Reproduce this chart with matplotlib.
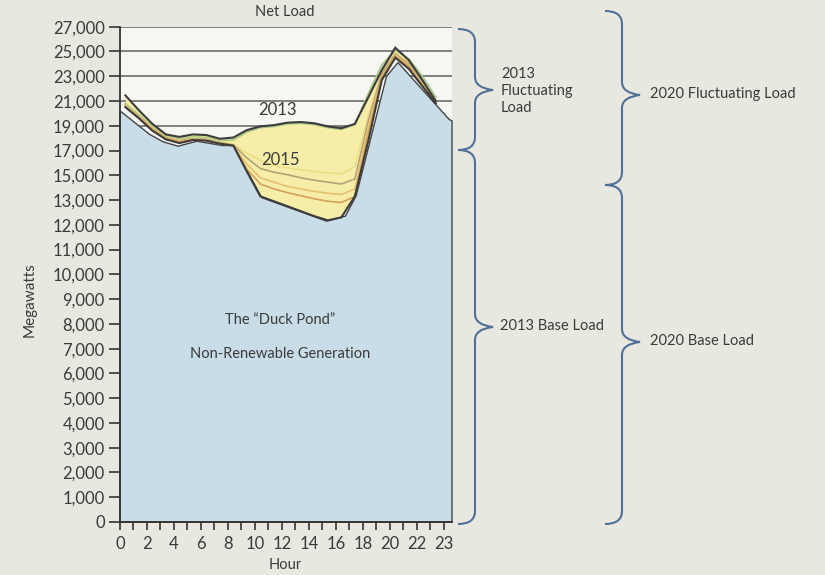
"""Duck curve: net load by hour, 2013 to 2020, with the base / fluctuating load braces."""

import matplotlib
matplotlib.use("Agg")
import matplotlib.pyplot as plt          # noqa: E402
import numpy as np                        # noqa: E402
from matplotlib.path import Path          # noqa: E402
from matplotlib.patches import PathPatch  # noqa: E402
from matplotlib.transforms import Affine2D  # noqa: E402

# --- data (MW) -------------------------------------------------------------
HOURS = np.arange(24)
LOAD_2013 = [21450, 20250, 19150, 18300, 18100, 18300, 18250, 17950, 18050, 18650,
             18950, 19050, 19250, 19300, 19200, 18950, 18800, 19150, 21300, 23500,
             25300, 24300, 22700, 21000]
LOAD_2014 = [20800, 19900, 18950, 18200, 17950, 18100, 18050, 17800, 17850, 18500,
             18850, 18950, 19150, 19200, 19100, 18850, 18700, 19100, 21600, 23900,
             25100, 24400, 23000, 21300]
LOAD_2015 = [20700, 19800, 18850, 18100, 17850, 18000, 17950, 17700, 17500, 16800,
             16200, 15800, 15600, 15450, 15300, 15200, 15100, 15700, 19800, 23400,
             24900, 24100, 22600, 21000]
LOAD_2016 = [20650, 19750, 18800, 18050, 17800, 17950, 17900, 17650, 17450, 16400,
             15550, 15250, 15050, 14800, 14600, 14450, 14300, 14700, 19400, 23200,
             24800, 24000, 22500, 20950]
LOAD_2017 = [20600, 19700, 18750, 18000, 17750, 17900, 17850, 17600, 17400, 15900,
             14800, 14450, 14100, 13900, 13700, 13550, 13450, 13900, 18900, 23000,
             24700, 23900, 22400, 20900]
LOAD_2018 = [20550, 19650, 18700, 17950, 17700, 17850, 17800, 17550, 17400, 15500,
             14300, 13900, 13600, 13350, 13100, 12950, 12900, 13300, 18400, 22900,
             24600, 23800, 22300, 20850]
LOAD_2020 = [20500, 19600, 18600, 17900, 17600, 17850, 17800, 17550, 17400, 15300,
             13300, 12950, 12750, 12550, 12350, 12180, 12300, 13300, 17800, 22700,
             24500, 23600, 22200, 20800]

# non-renewable "duck pond" outline
BASE_HOURS = [0, 2.2, 3.2, 4.3, 5.7, 7.6, 8.4, 10.5, 15.3, 16.7, 17.5, 19.75, 20.6, 24.4, 24.6]
BASE_MW = [20200, 18300, 17700, 17350, 17750, 17400, 17400, 13200, 12150, 12350, 13350,
           23000, 24100, 19500, 19400]

Y_TICKS = [0, 1000, 2000, 3000, 4000, 5000, 6000, 7000, 8000, 9000, 10000, 11000, 12000,
           13000, 15000, 17000, 19000, 21000, 23000, 25000, 27000]
X_TICKS = list(range(25))
X_LABELS = ["0", "", "2", "", "4", "", "6", "", "8", "", "10", "", "12", "", "14", "",
            "16", "", "18", "", "20", "", "22", "", "23"]

LINES = [
    (LOAD_2014, "#a9c98a", 1.3),
    (LOAD_2015, "#eadf86", 1.2),
    (LOAD_2016, "#b3a27a", 1.2),
    (LOAD_2017, "#e8c070", 1.2),
    (LOAD_2018, "#d4a05a", 1.2),
    (LOAD_2013, "#3c3c3c", 1.5),
    (LOAD_2020, "#3c3c3c", 1.5),
]

X_SHIFT = 0.4          # hourly points sit a bit right of the tick
BG = "#e8e8e0"
PLOT_BG = "#f6f6f2"
BLUE = "#c9dde8"
YELLOW = "#f6eea8"
TEXT = "#3a3a3a"
BRACE = "#4f7097"
W, H = 825, 575

plt.rcParams["font.family"] = ["Lato", "DejaVu Sans"]


def fwd(v):
    v = np.asarray(v, dtype=float)
    return np.where(v <= 13000, v / 1000, 13 + (v - 13000) / 2000)


def inv(p):
    p = np.asarray(p, dtype=float)
    return np.where(p <= 13, p * 1000, 13000 + (p - 13) * 2000)


def brace(fig, x_curl, x_spine, x_tip, y_top, y_tip, y_bot, r=13):
    """Curly brace drawn in image pixels (y down)."""
    verts = [
        (x_curl, y_top), (x_spine, y_top), (x_spine, y_top + r),
        (x_spine, y_tip - r),
        (x_spine, y_tip - 2), (x_tip, y_tip),
        (x_spine, y_tip + 2), (x_spine, y_tip + r),
        (x_spine, y_bot - r),
        (x_spine, y_bot), (x_curl, y_bot),
    ]
    codes = [Path.MOVETO, Path.CURVE3, Path.CURVE3, Path.LINETO,
             Path.CURVE3, Path.CURVE3, Path.CURVE3, Path.CURVE3,
             Path.LINETO, Path.CURVE3, Path.CURVE3]
    tr = Affine2D().scale(1 / W, -1 / H).translate(0, 1) + fig.transFigure
    fig.patches.append(PathPatch(Path(verts, codes), transform=tr, fill=False,
                                 edgecolor=BRACE, lw=1.5))


fig = plt.figure(figsize=(W / 100, H / 100), dpi=100, facecolor=BG)
ax = fig.add_axes([120 / W, 1 - 522 / H, (452 - 120) / W, (522 - 26.7) / H])
ax.set_facecolor(PLOT_BG)
ax.set_yscale("function", functions=(fwd, inv))
ax.set_xlim(0, 24.6)
ax.set_ylim(0, 27000)

for v in Y_TICKS:
    ax.axhline(v, color="#606060", lw=1.1, zorder=0.5)

x = HOURS + X_SHIFT
ax.fill_between(x, LOAD_2020, LOAD_2013, color=YELLOW, lw=0, zorder=1)
bx = np.concatenate([BASE_HOURS, [BASE_HOURS[-1], 0]])
by = np.concatenate([BASE_MW, [0, 0]])
ax.fill(bx, by, facecolor=BLUE, edgecolor="#454545", lw=1.0, zorder=2, clip_on=False)

for series, col, lw in LINES:
    ax.plot(x, series, color=col, lw=lw, zorder=3, solid_joinstyle="miter")

ax.set_yticks(Y_TICKS)
ax.set_yticklabels([f"{v:,}" for v in Y_TICKS])
ax.set_xticks(X_TICKS)
ax.set_xticklabels(X_LABELS)
ax.yaxis.set_minor_locator(matplotlib.ticker.NullLocator())
ax.tick_params(axis="both", direction="out", color="#333333", width=1.2,
               labelsize=12, labelcolor=TEXT)
ax.tick_params(axis="y", length=8, pad=3)
ax.tick_params(axis="x", length=6, pad=4)
for s in ("top", "right"):
    ax.spines[s].set_visible(False)
for s in ("left", "bottom"):
    ax.spines[s].set_color("#333333")
    ax.spines[s].set_linewidth(1.3)

ax.text(11.7, 20300, "2013", ha="center", va="center", fontsize=12, color=TEXT, zorder=4)
ax.text(11.9, 16250, "2015", ha="center", va="center", fontsize=12, color=TEXT, zorder=4)
ax.text(11.9, 8150, "The \u201cDuck Pond\u201d", ha="center", va="center",
        fontsize=10.5, color=TEXT, zorder=4)
ax.text(11.9, 6780, "Non-Renewable Generation", ha="center", va="center",
        fontsize=10.5, color=TEXT, zorder=4)

fig.text(285 / W, 1 - 12 / H, "Net Load", ha="center", va="center", fontsize=10.5, color=TEXT)
fig.text(285 / W, 1 - 565 / H, "Hour", ha="center", va="center", fontsize=10.5, color=TEXT)
fig.text(30 / W, 1 - 300 / H, "Megawatts", ha="center", va="center", rotation=90,
         fontsize=11, color=TEXT)

brace(fig, 458, 475, 493, 29, 90, 150)
brace(fig, 458, 475, 493, 150, 327, 524)
brace(fig, 605, 622, 640, 11, 95, 185)
brace(fig, 605, 622, 640, 185, 342, 524)

fig.text(501 / W, 1 - 91 / H, "2013\nFluctuating\nLoad", ha="left", va="center",
         fontsize=10.5, color=TEXT, linespacing=1.25)
fig.text(500 / W, 1 - 326 / H, "2013 Base Load", ha="left", va="center",
         fontsize=10.5, color=TEXT)
fig.text(650 / W, 1 - 94 / H, "2020 Fluctuating Load", ha="left", va="center",
         fontsize=10.5, color=TEXT)
fig.text(650 / W, 1 - 341 / H, "2020 Base Load", ha="left", va="center",
         fontsize=10.5, color=TEXT)

fig.savefig("out.png", dpi=100, facecolor=BG)
